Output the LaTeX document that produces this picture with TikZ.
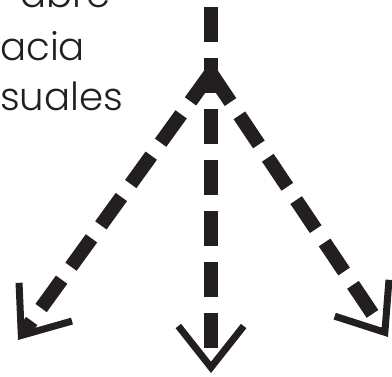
\documentclass[tikz,border=0pt]{standalone}
\usepackage{fontspec}
\setmainfont{Poppins}[UprightFont=* Light]
\usetikzlibrary{arrows.meta}
\definecolor{ArrowInk}{HTML}{231F20}
\tikzset{
  dashshaft/.style={ArrowInk,line width=10.5pt,dash pattern=on 26.25pt off 12pt},
  openhead/.style={-{Straight Barb[length=31pt,width=49pt,line width=5.25pt]}},
  sidetext/.style={anchor=base west,inner sep=0pt,text=ArrowInk,font=\fontsize{29pt}{36pt}\selectfont}
}
\begin{document}
\begin{tikzpicture}[x=0.75pt,y=-0.75pt]
\path[use as bounding box] (0,0) rectangle (392,376);
% text
\node[sidetext] (lineA) at (20,7) {abre};
\node[sidetext] (lineB) at (0,60) {acia};
\node[sidetext] (lineC) at (0,110) {suales};
% points
\coordinate (top) at (211,0);
\coordinate (apex) at (211,73);
\coordinate (tipL) at (18,340);
\coordinate (tipM) at (211,373);
\coordinate (tipR) at (388,337);
% arrows
\draw[dashshaft,openhead,dash phase=33pt] (top) -- (tipM);
\draw[dashshaft,openhead] (apex) -- (tipL);
\draw[dashshaft,openhead] (apex) -- (tipR);
\end{tikzpicture}
\end{document}
